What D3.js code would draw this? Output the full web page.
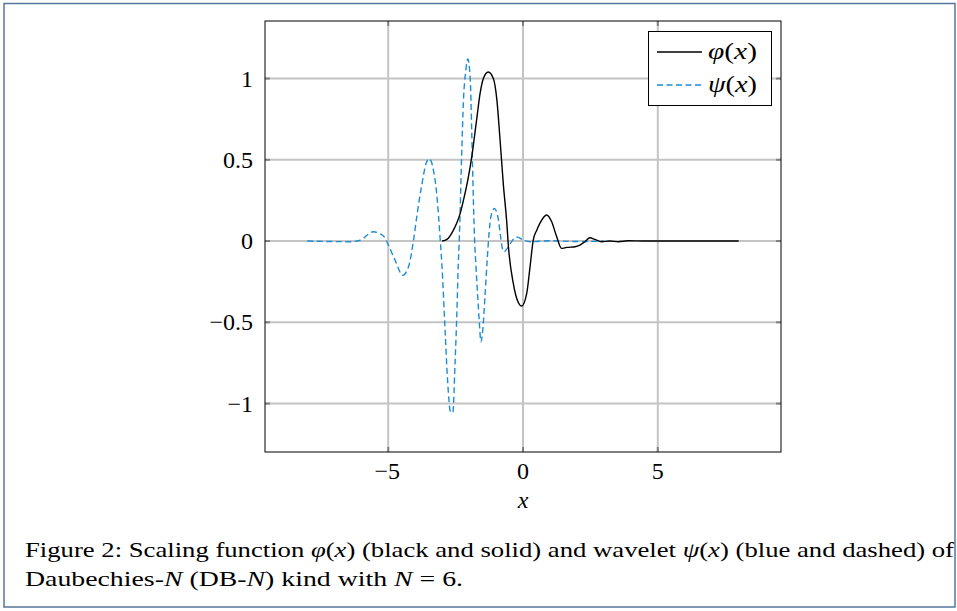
<!DOCTYPE html>
<html><head><meta charset="utf-8">
<script src="https://cdn.jsdelivr.net/npm/d3@7"></script>
<style>
html,body{margin:0;padding:0;background:#fff;}
svg text{font-family:"Liberation Serif","Times New Roman",serif;}
</style></head>
<body>
<script>
// ---- data ----
const phiX = [-3.0,-2.9,-2.77,-2.62,-2.46,-2.33,-2.21,-2.03,-1.90,-1.71,-1.59,-1.47,-1.29,-1.10,-0.97,-0.85,-0.73,-0.60,-0.54,-0.36,-0.17,-0.05,0.14,0.26,0.38,0.51,0.63,0.88,1.06,1.25,1.43,1.62,1.93,2.11,2.30,2.48,2.67,2.91,3.22,3.53,3.9,4.5,6,8];
const phiY = [0,0.004,0.017,0.055,0.109,0.17,0.25,0.39,0.52,0.76,0.91,1.00,1.04,1.00,0.87,0.62,0.35,0.11,-0.035,-0.26,-0.38,-0.40,-0.32,-0.16,0.006,0.067,0.11,0.16,0.12,0.026,-0.045,-0.039,-0.035,-0.025,-0.004,0.02,0.01,-0.004,0,-0.004,0.002,0,0,0];
const psiX = [-8,-7.15,-6.41,-6.04,-5.56,-5.30,-5.11,-4.99,-4.74,-4.46,-4.25,-4.06,-3.94,-3.75,-3.59,-3.48,-3.32,-3.20,-3.07,-3.01,-2.89,-2.80,-2.68,-2.60,-2.52,-2.46,-2.40,-2.36,-2.27,-2.21,-2.12,-2.05,-1.96,-1.90,-1.84,-1.80,-1.75,-1.68,-1.62,-1.56,-1.47,-1.41,-1.32,-1.26,-1.19,-1.06,-0.91,-0.83,-0.75,-0.70,-0.54,-0.41,-0.23,0.01,0.26,1.0,2.0,3.0];
const psiY = [0,-0.003,-0.004,0.005,0.057,0.045,0.017,-0.025,-0.12,-0.21,-0.16,0.006,0.15,0.35,0.48,0.507,0.435,0.29,0.006,-0.14,-0.55,-0.85,-1.057,-1.05,-0.75,-0.48,-0.14,0.026,0.56,0.86,1.05,1.12,1.01,0.66,0.25,0.026,-0.14,-0.34,-0.50,-0.62,-0.50,-0.34,-0.095,0.047,0.15,0.20,0.13,0.026,-0.055,-0.065,-0.035,0.0,0.026,0.006,-0.004,0.002,-0.003,0];
const xTicks = [-5,0,5];
const yTicks = [-1,-0.5,0,0.5,1];
const seriesNames = ["φ", "ψ"];

const W = 957, H = 611;
const svg = d3.select("body").append("svg").attr("width", W).attr("height", H);

// outer frame
svg.append("rect").attr("x",4).attr("y",3.5).attr("width",951).attr("height",603.5)
  .attr("fill","none").attr("stroke","#56779a").attr("stroke-width",1.5);

const L = 265, R = 781, T = 21, B = 452;
const x = d3.scaleLinear().domain([-9.57, 9.57]).range([L, R]);
const y = d3.scaleLinear().domain([-1.298, 1.354]).range([B, T]);

// grid
const g = svg.append("g");
g.selectAll(".gx").data(xTicks).join("line")
  .attr("x1", d=>x(d)).attr("x2", d=>x(d)).attr("y1", T).attr("y2", B)
  .attr("stroke","#c4c4c4").attr("stroke-width",2);
g.selectAll(".gy").data(yTicks).join("line")
  .attr("y1", d=>y(d)).attr("y2", d=>y(d)).attr("x1", L).attr("x2", R)
  .attr("stroke","#c4c4c4").attr("stroke-width",2);

// ticks (inside, all four sides)
const tk = 5;
xTicks.forEach(t=>{
  g.append("line").attr("x1",x(t)).attr("x2",x(t)).attr("y1",B).attr("y2",B-tk).attr("stroke","#808080").attr("stroke-width",2);
  g.append("line").attr("x1",x(t)).attr("x2",x(t)).attr("y1",T).attr("y2",T+tk).attr("stroke","#808080").attr("stroke-width",2);
});
yTicks.forEach(t=>{
  g.append("line").attr("x1",L).attr("x2",L+tk).attr("y1",y(t)).attr("y2",y(t)).attr("stroke","#808080").attr("stroke-width",2);
  g.append("line").attr("x1",R).attr("x2",R-tk).attr("y1",y(t)).attr("y2",y(t)).attr("stroke","#808080").attr("stroke-width",2);
});

// curves
const phiData = phiX.map((v,i)=>({x:v,y:phiY[i]}));
const psiData = psiX.map((v,i)=>({x:v,y:psiY[i]}));
const line = d3.line().x(d=>x(d.x)).y(d=>y(d.y)).curve(d3.curveMonotoneX);
svg.append("path").datum(psiData).attr("d", line).attr("fill","none")
  .attr("stroke","#1b8dd4").attr("stroke-width",1.4).attr("stroke-dasharray","6,3.5");
svg.append("path").datum(phiData).attr("d", line).attr("fill","none")
  .attr("stroke","#000").attr("stroke-width",1.4);

// frame
svg.append("rect").attr("x",L).attr("y",T).attr("width",R-L).attr("height",B-T)
  .attr("fill","none").attr("stroke","#000").attr("stroke-width",1);

// axis labels
const fmt = d => (d<0 ? "\u2212" : "") + String(Math.abs(d));
svg.selectAll(".yl").data(yTicks).join("text")
  .attr("x", L-12).attr("y", d=>y(d)+8).attr("text-anchor","end")
  .attr("font-size",24).text(fmt);
svg.selectAll(".xl").data(xTicks).join("text")
  .attr("x", d=>x(d) + (d<0?-1:0)).attr("y", B+27).attr("text-anchor","middle")
  .attr("font-size",24).text(fmt);
svg.append("text").attr("x", x(0)).attr("y", B+56).attr("text-anchor","middle")
  .attr("font-size",24).attr("font-style","italic").text("x");

// legend
const lg = svg.append("g");
lg.append("rect").attr("x",648.5).attr("y",31.5).attr("width",123).attr("height",74)
  .attr("fill","#fff").attr("stroke","#000").attr("stroke-width",1);
const legRows = [
  {name:seriesNames[0], yy:52, color:"#000", dash:null},
  {name:seriesNames[1], yy:85, color:"#1b8dd4", dash:"6,3.5"}
];
legRows.forEach(r=>{
  const l = lg.append("line").attr("x1",657).attr("x2",702).attr("y1",r.yy).attr("y2",r.yy)
    .attr("stroke",r.color).attr("stroke-width",1.4);
  if (r.dash) l.attr("stroke-dasharray", r.dash);
  const t = lg.append("text").attr("x",708).attr("y",r.yy+7).attr("font-size",23)
    .attr("textLength",49).attr("lengthAdjust","spacingAndGlyphs");
  t.append("tspan").attr("font-style","italic").text(r.name);
  t.append("tspan").text("(");
  t.append("tspan").attr("font-style","italic").text("x");
  t.append("tspan").text(")");
});

// caption
function caption(parts, yy, width){
  const t = svg.append("text").attr("x",25).attr("y",yy).attr("font-size",21)
    .attr("textLength", width).attr("lengthAdjust","spacingAndGlyphs");
  parts.forEach(p=>{
    const s = t.append("tspan").text(p[0]);
    if (p[1]) s.attr("font-style","italic");
  });
}
caption([["Figure 2: Scaling function "],["φ",1],["("],["x",1],[") (black and solid) and wavelet "],["ψ",1],["("],["x",1],[") (blue and dashed) of"]], 557, 929);
caption([["Daubechies-"],["N",1],[" (DB-"],["N",1],[") kind with "],["N",1],[" = 6."]], 586, 438);
</script>
</body></html>
